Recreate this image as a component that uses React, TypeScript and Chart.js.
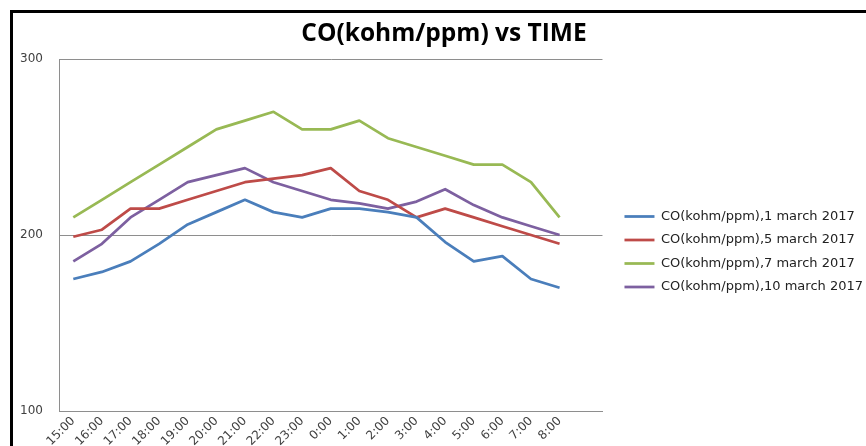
import { useEffect, useRef } from 'react';
import { Chart, registerables } from 'chart.js';

Chart.register(...registerables);

const categories = ['15:00', '16:00', '17:00', '18:00', '19:00', '20:00', '21:00', '22:00', '23:00', '0:00', '1:00', '2:00', '3:00', '4:00', '5:00', '6:00', '7:00', '8:00', ''];

const seriesNames = ['CO(kohm/ppm),1 march 2017', 'CO(kohm/ppm),5 march 2017', 'CO(kohm/ppm),7 march 2017', 'CO(kohm/ppm),10 march 2017'];

const march1 = [175, 179, 185, 195, 206, 213, 220, 213, 210, 215, 215, 213, 210, 196, 185, 188, 175, 170];
const march5 = [199, 203, 215, 215, 220, 225, 230, 232, 234, 238, 225, 220, 210, 215, 210, 205, 200, 195];
const march7 = [210, 220, 230, 240, 250, 260, 265, 270, 260, 260, 265, 255, 250, 245, 240, 240, 230, 210];
const march10 = [185, 195, 210, 220, 230, 234, 238, 230, 225, 220, 218, 215, 219, 226, 217, 210, 205, 200];

const seriesColors = ['#4A7EBB', '#BE4B48', '#98B954', '#7D60A0'];

const yTicks = [100, 200, 300];

const TITLE = 'CO(kohm/ppm) vs TIME';

export default function App() {
  const ref = useRef<HTMLCanvasElement | null>(null);

  useEffect(() => {
    const canvas = ref.current;
    if (!canvas) return;
    const legendFont = "'DejaVu Sans', sans-serif";
    const legendSize = 13;
    const legendPad = 10.5;
    const lineW = 30;
    const mctx = document.createElement('canvas').getContext('2d')!;
    mctx.font = `normal ${legendSize}px ${legendFont}`;
    const tw = Math.max(...seriesNames.map((n) => mctx.measureText(n).width));
    const legendLeft = 624 - legendPad;
    const legendWidth = legendPad + lineW + legendSize / 2 + tw + 10;
    const canvasW = Math.ceil(legendLeft + legendWidth);
    const legendW = canvasW - legendLeft;
    const padL = Math.max(0, 2 * 444 - canvasW);
    const gap = legendLeft - 602;

    canvas.width = canvasW;
    canvas.height = 446;
    canvas.style.width = canvasW + 'px';
    canvas.style.height = '446px';

    const dataSets = [march1, march5, march7, march10];

    const chart = new Chart(canvas, {
      type: 'line',
      data: {
        labels: categories,
        datasets: dataSets.map((d, i) => ({
          label: seriesNames[i],
          data: d,
          borderColor: seriesColors[i],
          backgroundColor: seriesColors[i],
          borderWidth: 2.75,
          pointRadius: 0,
          pointHoverRadius: 0,
          tension: 0,
          fill: false,
          borderJoinStyle: 'round' as const,
          borderCapStyle: 'butt' as const,
        })),
      },
      options: {
        responsive: false,
        animation: false,
        devicePixelRatio: 1,
        layout: { padding: { left: padL, right: 0, top: 0, bottom: 0 } },
        plugins: {
          title: {
            display: true,
            text: TITLE,
            color: '#000',
            font: { family: "'Open Sans', Lato, sans-serif", size: 24.5, weight: 'bold' },
            padding: { top: 19.8, bottom: 9.8 },
          },
          legend: {
            position: 'right',
            align: 'center',
            maxWidth: legendW,
            title: { display: true, text: '', font: { size: 10 }, padding: { top: 45.5, bottom: 0 } },
            labels: {
              usePointStyle: true,
              pointStyle: 'line',
              pointStyleWidth: lineW,
              padding: legendPad,
              color: '#222',
              font: { family: legendFont, size: legendSize },
            },
          },
          tooltip: { enabled: false },
        },
        scales: {
          x: {
            type: 'category',
            offset: true,
            grid: { display: false, drawTicks: false },
            border: { display: true, color: '#8e8e8e', width: 1 },
            ticks: {
              autoSkip: false,
              minRotation: 45,
              maxRotation: 45,
              padding: 3,
              color: '#404040',
              font: { family: "'DejaVu Sans', sans-serif", size: 12 },
            },
            afterFit: (s: any) => {
              s.height = 35;
            },
          },
          y: {
            type: 'linear',
            min: yTicks[0],
            max: yTicks[yTicks.length - 1],
            afterBuildTicks: (s: any) => {
              s.ticks = yTicks.map((v) => ({ value: v }));
            },
            grid: { color: '#8e8e8e', lineWidth: 1, drawTicks: false },
            border: { display: true, color: '#8e8e8e', width: 1 },
            ticks: {
              padding: 16,
              color: '#404040',
              font: { family: "'DejaVu Sans', sans-serif", size: 12 },
            },
            afterFit: (s: any) => {
              s.width = 59 - padL;
            },
          },
          y2: {
            type: 'linear',
            position: 'right',
            display: true,
            grid: { display: false, drawTicks: false },
            border: { display: false },
            ticks: { display: false },
            afterFit: (s: any) => {
              s.width = gap;
            },
          },
        },
      },
    });
    return () => chart.destroy();
  }, []);

  return (
    <div style={{ position: 'fixed', left: 0, top: 0, width: 866, height: 446, overflow: 'hidden', background: '#fff' }}>
      <div
        style={{
          position: 'absolute',
          left: 10,
          top: 10,
          width: 1000,
          height: 1000,
          border: '3px solid #000',
          boxSizing: 'border-box',
        }}
      />
      <canvas ref={ref} style={{ position: 'absolute', left: 0, top: 0 }} />
    </div>
  );
}
